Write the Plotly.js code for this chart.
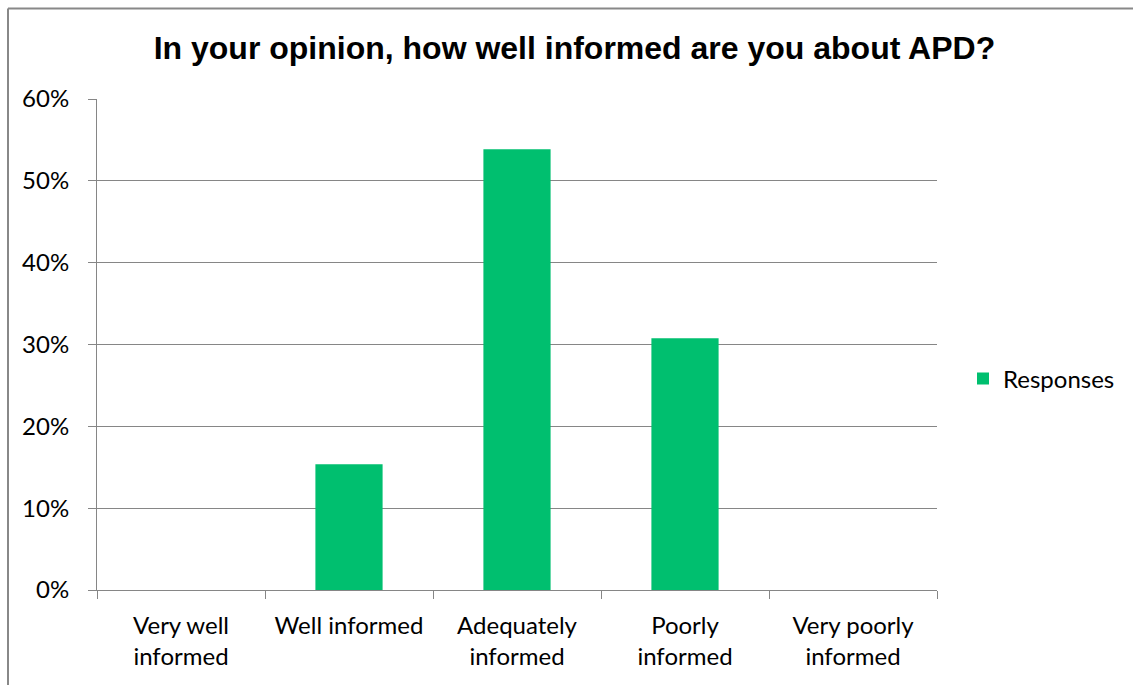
<!DOCTYPE html>
<html>
<head>
<meta charset="utf-8">
<script src="https://cdn.plot.ly/plotly-3.0.1.min.js"></script>
<style>
  html, body { margin: 0; padding: 0; background: #fff; }
  #chart { width: 1133px; height: 685px; }
</style>
</head>
<body>
<div id="chart"></div>
<script>
const categories = ["Very well<br>informed", "Well informed", "Adequately<br>informed", "Poorly<br>informed", "Very poorly<br>informed"];
const responses = [0, 0.1538, 0.5385, 0.3077, 0];
const seriesName = "Responses";
const titleText = "In your opinion, how well informed are you about APD?";

const gridColor = "#868686";
const tickFont = { family: "Lato, Calibri, 'Open Sans', sans-serif", size: 24, color: "#000" };

const trace = {
  type: "bar",
  x: categories,
  y: responses,
  name: seriesName,
  marker: { color: "#00BF6F" },
  showlegend: true,
  hoverinfo: "skip"
};

const L = 97, R = 937, T = 99, B = 590, W = 1133, H = 685;
const pw = R - L, ph = B - T;
const bx = (8 - L) / pw;
const by = (B - 8.5) / ph;

const layout = {
  width: W, height: H,
  margin: { l: L, r: W - R, t: T, b: H - B, pad: 0, autoexpand: false },
  paper_bgcolor: "#fff",
  plot_bgcolor: "#fff",
  bargap: 0.6,
  title: {
    text: titleText,
    font: { family: "'Liberation Sans', Arial, sans-serif", size: 32, color: "#000", weight: "bold" },
    x: 0.507, xanchor: "center",
    y: 1 - 48 / H, yanchor: "middle"
  },
  xaxis: {
    type: "category",
    showgrid: false,
    showline: true, linecolor: gridColor, linewidth: 1,
    ticks: "outside", tickson: "boundaries", ticklen: 8, tickcolor: gridColor, tickwidth: 1,
    tickfont: tickFont,
    ticklabelstandoff: 14,
    fixedrange: true
  },
  yaxis: {
    range: [0, 0.6],
    tickvals: [0, 0.1, 0.2, 0.3, 0.4, 0.5, 0.6],
    tickformat: ".0%",
    showgrid: true, gridcolor: gridColor, gridwidth: 1,
    zeroline: false,
    showline: true, linecolor: gridColor, linewidth: 1,
    ticks: "outside", ticklen: 8, tickcolor: gridColor, tickwidth: 1,
    tickfont: tickFont,
    ticklabelstandoff: 14,
    fixedrange: true
  },
  legend: {
    x: (963 - L) / pw, xanchor: "left",
    y: (B - 379) / ph, yanchor: "middle",
    font: tickFont,
    bgcolor: "rgba(0,0,0,0)",
    itemwidth: 30
  },
  shapes: [
    { type: "line", xref: "paper", yref: "paper", x0: bx, x1: bx, y0: -1, y1: by,
      line: { color: "#888", width: 2 } },
    { type: "line", xref: "paper", yref: "paper", x0: bx, x1: 2, y0: by, y1: by,
      line: { color: "#888", width: 2 } }
  ]
};

Plotly.newPlot("chart", [trace], layout, { displayModeBar: false, staticPlot: true });
</script>
</body>
</html>
